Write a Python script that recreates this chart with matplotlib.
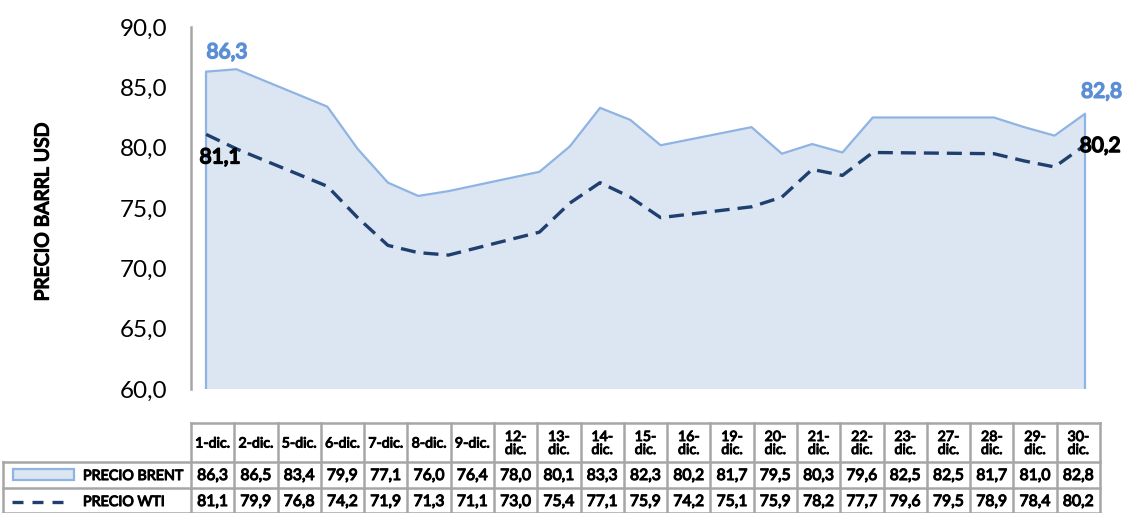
import matplotlib
matplotlib.use("Agg")
import matplotlib.pyplot as plt
from matplotlib.patches import Rectangle
from matplotlib.lines import Line2D
import matplotlib.patheffects as pe

plt.rcParams['font.family'] = ['Lato', 'DejaVu Sans']

dates = ["1-dic.", "2-dic.", "5-dic.", "6-dic.", "7-dic.", "8-dic.", "9-dic.",
         "12-dic.", "13-dic.", "14-dic.", "15-dic.", "16-dic.", "19-dic.", "20-dic.",
         "21-dic.", "22-dic.", "23-dic.", "27-dic.", "28-dic.", "29-dic.", "30-dic."]
brent = [86.3, 86.5, 83.4, 79.9, 77.1, 76.0, 76.4, 78.0, 80.1, 83.3, 82.3,
         80.2, 81.7, 79.5, 80.3, 79.6, 82.5, 82.5, 81.7, 81.0, 82.8]
wti = [81.1, 79.9, 76.8, 74.2, 71.9, 71.3, 71.1, 73.0, 75.4, 77.1, 75.9,
       74.2, 75.1, 75.9, 78.2, 77.7, 79.6, 79.5, 78.9, 78.4, 80.2]
yticks = [60, 65, 70, 75, 80, 85, 90]
series_names = ["PRECIO BRENT", "PRECIO WTI"]
ylabel = "PRECIO BARRL USD"

def fmt(v):
    return f"{v:.1f}".replace(".", ",")

def bold(color="black", w=0.8):
    return dict(path_effects=[pe.withStroke(linewidth=w, foreground=color)], color=color)

W, H = 1125, 513
fig = plt.figure(figsize=(W / 100, H / 100), dpi=100)

brent_fill = "#DCE5F2"
brent_edge = "#8FB4E3"
wti_col = "#1F3F6E"
grid_col = "#A6A6A6"
wti_lw = 2.4
wti_dash = (4.5, 2.4)
key_dash = (3.3, 2.7)

# date axis: position by day of month
days = [int(d.split("-")[0]) for d in dates]

ax = fig.add_axes([191 / W, 1 - 389 / H, (1100 - 191) / W, (389 - 27) / H])
ax.fill_between(days, brent, yticks[0], facecolor=brent_fill, edgecolor="none", zorder=1)
ax.plot(days, brent, color=brent_edge, lw=1.6, zorder=2)
ax.vlines([days[0], days[-1]], yticks[0], [brent[0], brent[-1]], color=brent_edge, lw=1.6, zorder=2)
ax.plot(days, wti, color=wti_col, lw=wti_lw, dashes=wti_dash, zorder=3)
ax.set_xlim(days[0] - 0.5, days[-1] + 0.5)
ax.set_ylim(yticks[0], yticks[-1])
ax.set_yticks(yticks)
ax.set_yticklabels([fmt(v) for v in yticks], fontsize=17.5)
ax.tick_params(axis='y', length=0, pad=17)
ax.set_xticks([])
for s in ["top", "right", "bottom"]:
    ax.spines[s].set_visible(False)
ax.spines["left"].set_color(grid_col)
ax.spines["left"].set_linewidth(1.8)
ax.patch.set_alpha(0)

lbl_blue = "#5A8FD6"
ax.annotate(fmt(brent[0]), (days[0], brent[0]), xytext=(15, 14), textcoords="offset points",
            ha="center", va="center", fontsize=15, **bold(lbl_blue, 1.2))
ax.annotate(fmt(brent[-1]), (days[-1], brent[-1]), xytext=(12, 16), textcoords="offset points",
            ha="center", va="center", fontsize=15, **bold(lbl_blue, 1.2))
ax.annotate(fmt(wti[0]), (days[0], wti[0]), xytext=(10, -16.5), textcoords="offset points",
            ha="center", va="center", fontsize=15, **bold("black", 1.2))
ax.annotate(fmt(wti[-1]), (days[-1], wti[-1]), xytext=(11, -0.5), textcoords="offset points",
            ha="center", va="center", fontsize=15, **bold("black", 1.2))

fig.text(43 / W, 1 - 212 / H, ylabel, rotation=90, ha="center", va="center",
         fontsize=14, **bold("black", 1.0))

# data table overlay in pixel coordinates
tax = fig.add_axes([0, 0, 1, 1])
tax.set_xlim(0, W)
tax.set_ylim(H, 0)
tax.axis("off")
n = len(dates)
x0, x1 = 191, 1100
cw = (x1 - x0) / n
y_top, y_h, y_b, y_w = 423, 462, 488, 514
lw = 1.8
tax.plot([x0, x1], [y_top, y_top], color=grid_col, lw=lw)
for yy in (y_h, y_b, y_w - 1):
    tax.plot([3, x1], [yy, yy], color=grid_col, lw=lw)
for i in range(n + 1):
    xx = x0 + i * cw
    tax.plot([xx, xx], [y_top, y_w], color=grid_col, lw=lw)
tax.plot([3, 3], [y_h, y_w], color=grid_col, lw=lw)

for i, d in enumerate(dates):
    cx = x0 + (i + 0.5) * cw
    lab = d if len(d) <= 6 else d.replace("-", "-\n")
    tax.text(cx, (y_top + y_h) / 2 + 1, lab, ha="center", va="center", fontsize=10.2,
             linespacing=1.1, **bold("black", 0.75))
    tax.text(cx, (y_h + y_b) / 2 + 1, fmt(brent[i]), ha="center", va="center",
             fontsize=11.3, **bold("black", 0.8))
    tax.text(cx, (y_b + y_w) / 2 + 1, fmt(wti[i]), ha="center", va="center",
             fontsize=11.3, **bold("black", 0.8))

tax.add_patch(Rectangle((13, 469), 61, 11, facecolor=brent_fill, edgecolor=brent_edge, lw=1.6))
tax.add_line(Line2D([12, 64], [502, 502], color=wti_col, lw=wti_lw, dashes=key_dash))
tax.text(83, (y_h + y_b) / 2 + 1, series_names[0], ha="left", va="center", fontsize=10.3,
         **bold("black", 0.8))
tax.text(83, (y_b + y_w) / 2 + 1, series_names[1], ha="left", va="center", fontsize=10.3,
         **bold("black", 0.8))

fig.savefig("out.png", dpi=100)
